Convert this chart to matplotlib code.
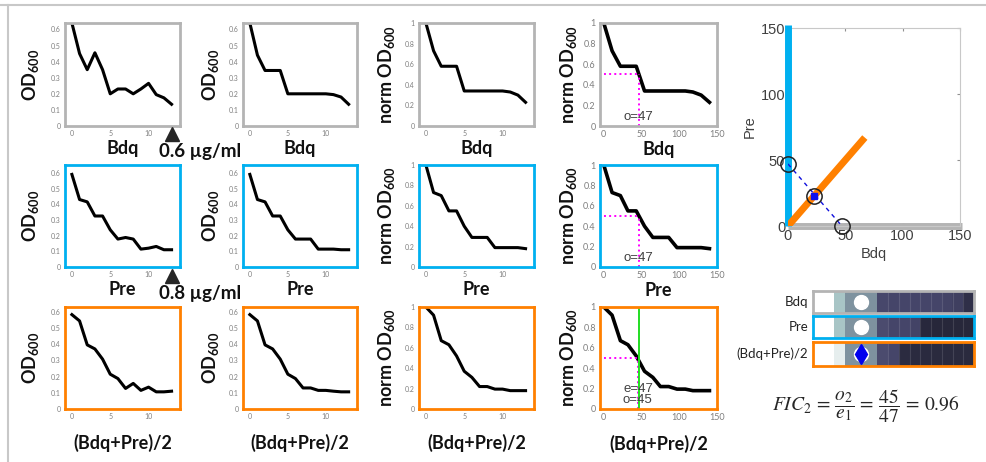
import numpy as np
import matplotlib
matplotlib.use('Agg')
import matplotlib.pyplot as plt
from matplotlib.colors import LinearSegmentedColormap
from matplotlib.lines import Line2D
from matplotlib.ticker import FormatStrFormatter

plt.rcParams['font.family'] = ['Lato', 'DejaVu Sans']
plt.rcParams['mathtext.fontset'] = 'custom'
plt.rcParams['mathtext.rm'] = 'Lato:bold'
plt.rcParams['mathtext.it'] = 'Lato:bold:italic'
plt.rcParams['mathtext.bf'] = 'Lato:bold'

# --- dose index (panels 1-3) and scaled dose (panel 4)
dose = np.arange(14)
dose_scaled = [0, 11, 22, 32, 43, 54, 65, 75, 86, 97, 108, 118, 129, 140]

# --- OD600 curves
bdq_od = [0.64, 0.45, 0.35, 0.455, 0.35, 0.20, 0.23, 0.23, 0.20, 0.23, 0.265, 0.195, 0.175, 0.135]
bdq_od_mono = [0.64, 0.44, 0.345, 0.345, 0.345, 0.20, 0.20, 0.20, 0.20, 0.20, 0.20, 0.195, 0.18, 0.135]
bdq_norm = [1.0, 0.73, 0.58, 0.58, 0.58, 0.34, 0.34, 0.34, 0.34, 0.34, 0.34, 0.33, 0.30, 0.23]

pre_od = [0.59, 0.43, 0.415, 0.325, 0.325, 0.237, 0.178, 0.188, 0.178, 0.114, 0.12, 0.131, 0.11, 0.11]
pre_od_mono = [0.59, 0.43, 0.415, 0.325, 0.325, 0.237, 0.178, 0.178, 0.178, 0.114, 0.114, 0.114, 0.11, 0.11]
pre_norm = [1.0, 0.73, 0.70, 0.55, 0.55, 0.40, 0.29, 0.29, 0.29, 0.19, 0.19, 0.19, 0.19, 0.18]

mix_od = [0.583, 0.544, 0.396, 0.371, 0.308, 0.215, 0.188, 0.127, 0.158, 0.115, 0.135, 0.106, 0.106, 0.11]
mix_od_mono = [0.583, 0.544, 0.396, 0.371, 0.308, 0.215, 0.188, 0.13, 0.13, 0.115, 0.115, 0.11, 0.106, 0.106]
mix_norm = [1.0, 0.92, 0.67, 0.63, 0.52, 0.37, 0.31, 0.22, 0.22, 0.195, 0.195, 0.18, 0.18, 0.18]

# --- IC50 values
o_bdq, o_pre, o_mix, e_mix = 47, 47, 45, 47

# --- heatmap rows (normalised OD per well)
heat_labels = ['Bdq', 'Pre', '(Bdq+Pre)/2']
heat_bdq = [1, 1, 0.70, 0.55, 0.55, 0.55, 0.34, 0.33, 0.33, 0.33, 0.33, 0.33, 0.32, 0.30, 0.22]
heat_pre = [1, 1, 0.70, 0.55, 0.55, 0.55, 0.37, 0.33, 0.33, 0.32, 0.12, 0.10, 0.10, 0.10, 0.10]
heat_mix = [1, 1, 0.86, 0.55, 0.55, 0.55, 0.37, 0.33, 0.18, 0.17, 0.17, 0.16, 0.16, 0.16, 0.16]

GRAY = '#b4b4b4'
BLUE = '#00b0f0'
ORANGE = '#ff8000'
MAGENTA = '#ff00ff'

W, H = 987, 462
fig = plt.figure(figsize=(W / 100, H / 100), dpi=100)


def add_px(x0, x1, y0, y1):
    return fig.add_axes([x0 / W, 1 - y1 / H, (x1 - x0) / W, (y1 - y0) / H])


def curve_panel(box, x, y, frame, xlabel, ylabel, ylim, yticks, xlim, xticks,
                tick_fs, xpad, ypad, lw=2.2):
    ax = add_px(*box)
    ax.plot(x, y, color='black', lw=lw, solid_joinstyle='round')
    ax.set_xlim(xlim)
    ax.set_ylim(ylim)
    ax.set_xticks(xticks)
    ax.set_yticks(yticks)
    ax.yaxis.set_major_formatter(FormatStrFormatter('%g'))
    ax.tick_params(length=0, labelsize=tick_fs, labelcolor='#7f7f7f', pad=3)
    for s in ax.spines.values():
        s.set_color(frame)
        s.set_linewidth(2)
    ax.set_xlabel(xlabel, fontsize=13, fontweight='bold', labelpad=xpad, color='#111111')
    ax.set_ylabel(ylabel, fontsize=13, fontweight='bold', labelpad=ypad, color='#111111')
    return ax


cols = [(65, 180), (243, 357), (419, 534), (600, 717)]
rows = [(23, 126), (165, 267), (307, 409)]
row_data = [
    (bdq_od, bdq_od_mono, bdq_norm, GRAY, 'Bdq', 0.64, o_bdq),
    (pre_od, pre_od_mono, pre_norm, BLUE, 'Pre', 0.65, o_pre),
    (mix_od, mix_od_mono, mix_norm, ORANGE, '(Bdq+Pre)/2', 0.63, o_mix),
]
od_ticks = [0, 0.1, 0.2, 0.3, 0.4, 0.5, 0.6]
norm_ticks = [0, 0.2, 0.4, 0.6, 0.8, 1]

for r, (od, od_mono, norm, frame, name, ytop, o_val) in enumerate(row_data):
    y0, y1 = rows[r]
    xpad = 2 if r < 2 else 10
    curve_panel((cols[0][0], cols[0][1], y0, y1), dose, od, frame, name, 'OD$_{600}$',
                (0, ytop), od_ticks, (-0.9, 14.1), [0, 5, 10], 5, xpad, 7)
    curve_panel((cols[1][0], cols[1][1], y0, y1), dose, od_mono, frame, name, 'OD$_{600}$',
                (0, ytop), od_ticks, (-0.9, 14.1), [0, 5, 10], 5, xpad, 6)
    curve_panel((cols[2][0], cols[2][1], y0, y1), dose, norm, frame, name, 'norm OD$_{600}$',
                (0, 1), norm_ticks, (-0.9, 14.1), [0, 5, 10], 5, xpad, 6)
    ax = curve_panel((cols[3][0], cols[3][1], y0, y1), dose_scaled, norm, frame, name,
                     'norm OD$_{600}$', (0, 1), norm_ticks, (-5, 150), [0, 50, 100, 150],
                     6.5, xpad - 1, 3, lw=2.6)
    ax.plot([0, o_val], [0.5, 0.5], color=MAGENTA, lw=1.4, ls=':')
    ax.plot([o_val, o_val], [0, 0.5], color=MAGENTA, lw=1.4, ls=':')
    if r == 2:
        ax.axvline(e_mix, color='#22dd22', lw=1.4)
        ax.text(e_mix - 1, 0.2, 'e=%d' % e_mix, ha='center', va='center', fontsize=9.5,
                color='#404040', family=['Liberation Sans'])
    ax.text(o_val - 1, 0.09, 'o=%d' % o_val, ha='center', va='center', fontsize=9.5,
            color='#404040', family=['Liberation Sans'])

# --- concentration markers
for yy, txt in [(134, '0.6 µg/ml'), (276, '0.8 µg/ml')]:
    fig.add_artist(Line2D([172 / W], [1 - yy / H], marker='^', ms=10, color='#262626',
                          transform=fig.transFigure))
    fig.text(200 / W, 1 - (yy + 18) / H, txt, ha='center', va='center', fontsize=13.5,
             fontweight='bold', color='#111111')

# --- isobologram
iso = add_px(788, 960, 28, 226)
iso.set_xlim(0, 150)
iso.set_ylim(0, 150)
iso.plot([0, 0], [0, 152], color=BLUE, lw=5, solid_capstyle='butt', clip_on=False, zorder=3)
iso.plot([0, 152], [0, 0], color=GRAY, lw=5, solid_capstyle='butt', clip_on=False, zorder=2)
iso.plot([0, 67], [0, 67], color=ORANGE, lw=5, solid_capstyle='butt', zorder=3)
iso.plot([0, o_pre], [o_bdq, 0], color='#1010dd', lw=1, ls=(0, (3, 3)), zorder=4)
iso.plot([0, o_pre, o_mix / 2], [o_bdq, 0, o_mix / 2], 'o', ms=11, mfc='none', mec='#222222',
         mew=1.1, clip_on=False, zorder=5)
iso.plot([o_mix / 2], [o_mix / 2], 's', ms=4, color='#1010ee', zorder=6)
iso.set_xticks([0, 50, 100, 150])
iso.set_yticks([0, 50, 100, 150])
iso.tick_params(direction='in', top=True, right=True, length=2, color='#909090',
                labelsize=10.5, labelcolor='#404040', pad=2)
for lab in iso.get_xticklabels() + iso.get_yticklabels():
    lab.set_family(['Liberation Sans'])
for s in iso.spines.values():
    s.set_color('#c8c8c8')
iso.set_xlabel('Bdq', fontsize=10.5, color='#404040', family=['Liberation Sans'], labelpad=3)
iso.set_ylabel('Pre', fontsize=10.5, color='#404040', family=['Liberation Sans'], labelpad=3)

# --- plate heatmap
cmap = LinearSegmentedColormap.from_list('plate', [
    (0.0, '#242434'), (0.2, '#2c2c42'), (0.33, '#46466a'), (0.4, '#505072'),
    (0.55, '#7f93a0'), (0.7, '#a8c5c6'), (0.86, '#e6eeee'), (1.0, '#ffffff')])
heat_rows = [(heat_bdq, GRAY, (291, 313)), (heat_pre, BLUE, (316, 338)),
             (heat_mix, ORANGE, (342, 366))]
for i, (vals, frame, (y0, y1)) in enumerate(heat_rows):
    hax = add_px(813, 974, y0, y1)
    hax.imshow(np.array(vals)[None, :], cmap=cmap, vmin=0, vmax=1, aspect='auto',
               interpolation='nearest')
    for c in range(6, len(vals) - 1):
        hax.axvline(c + 0.5, color='white', alpha=0.12, lw=0.8)
    hax.plot([4], [0], 'o', ms=10, mfc='white', mec='white')
    if i == 2:
        hax.plot([4], [0], 'd', ms=10, color='#0000ee')
    hax.set_xticks([])
    hax.set_yticks([])
    for s in hax.spines.values():
        s.set_color(frame)
        s.set_linewidth(2)
    fig.text(808 / W, 1 - (y0 + y1) / 2 / H, heat_labels[i], ha='right', va='center',
             fontsize=9.5, color='#222222')

# --- FIC formula
fig.text(866 / W, 1 - 406 / H,
         r'$FIC_2 \,=\, \dfrac{o_2}{e_1} \,=\, \dfrac{45}{47} \,=\, 0.96$',
         ha='center', va='center', fontsize=14, color='#262626', math_fontfamily='stix')

# --- outer frame
fig.add_artist(Line2D([0, 1], [1 - 5 / H, 1 - 5 / H], color='#c8c8c8', lw=1.5,
                      transform=fig.transFigure))
fig.add_artist(Line2D([8 / W, 8 / W], [0, 1 - 5 / H], color='#c8c8c8', lw=1.5,
                      transform=fig.transFigure))

fig.savefig('out.png', dpi=100)
